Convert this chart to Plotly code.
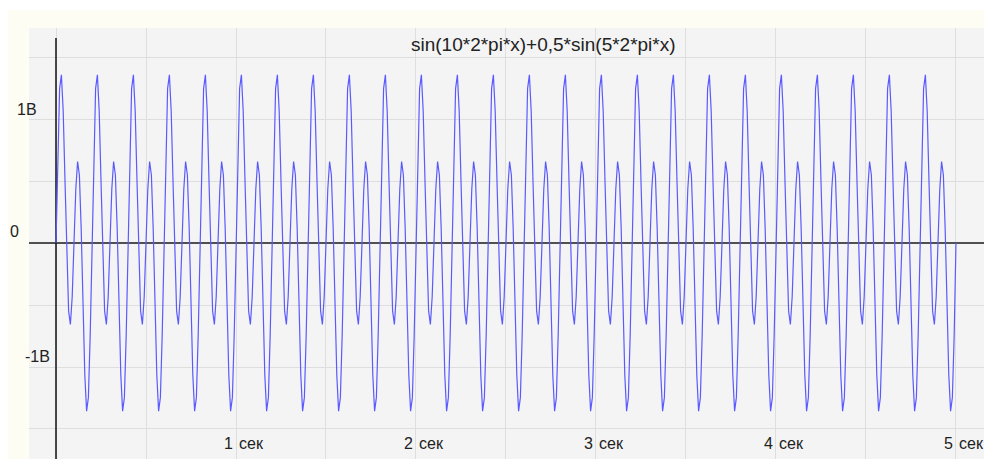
import plotly.graph_objects as go

period_values = [0.0, 0.742, 1.245, 1.356, 1.063, 0.5, -0.112, -0.547, -0.657, -0.433,
                 0.0, 0.433, 0.657, 0.547, 0.112, -0.5, -1.063, -1.356, -1.245, -0.742]
n_periods = 25
time_step = 0.01
signal = period_values * n_periods + [0.0]
times = [round(i * time_step, 4) for i in range(len(signal))]

title_text = "sin(10*2*pi*x)+0,5*sin(5*2*pi*x)"
x_tick_values = [1, 2, 3, 4, 5]
x_tick_unit = "сек"
y_labels = ["1В", "0", "-1В"]

# page has an 8 px body margin, so the figure is 8 px smaller than the window
W, H = 984, 451
ml, mr, mt, mb = 21, 2, 20, 0
pw, ph = W - ml - mr, H - mt - mb

x_range = [-0.15, 5.189]
y_range = [-1.742, 1.734]

fig = go.Figure()
fig.add_trace(go.Scatter(x=times, y=signal, mode="lines",
                         line=dict(color="rgb(90,90,255)", width=1.2),
                         hoverinfo="skip", showlegend=False))

grid = "#DEDEDE"
fig.update_layout(
    width=W, height=H,
    margin=dict(l=ml, r=mr, t=mt, b=mb, pad=0),
    paper_bgcolor="#FDFDF3",
    plot_bgcolor="#F4F4F4",
    showlegend=False,
    xaxis=dict(range=x_range, showticklabels=False, zeroline=False, showline=False,
               showgrid=True, gridcolor=grid, gridwidth=1, tick0=0, dtick=0.5, ticks=""),
    yaxis=dict(range=y_range, showticklabels=False, zeroline=False, showline=False,
               showgrid=True, gridcolor=grid, gridwidth=1, tick0=0, dtick=0.5, ticks=""),
)

shapes = [
    # thin white strip along the top of the page
    dict(type="rect", xref="paper", yref="paper", x0=-ml / pw - 0.01, x1=1 + mr / pw + 0.01,
         y0=1 + (mt - 2) / ph, y1=1 + mt / ph + 0.01, fillcolor="white", line_width=0, layer="above"),
    # zero line
    dict(type="line", xref="x", yref="y", x0=x_range[0], x1=5.161, y0=0, y1=0,
         line=dict(color="#505050", width=2), layer="between"),
    # vertical axis at t = 0
    dict(type="line", xref="x", yref="y", x0=0, x1=0, y0=y_range[0], y1=1.653,
         line=dict(color="#111111", width=1.5), layer="between"),
]
fig.update_layout(shapes=shapes)

font = dict(family="Liberation Sans, Arial, sans-serif", size=16, color="#222222")
ann = []
ann.append(dict(text=title_text, x=2.706, y=1.597, xref="x", yref="y",
                xanchor="center", yanchor="middle", showarrow=False,
                font=dict(family="Liberation Sans, Arial, sans-serif", size=19, color="#222222")))
for v in x_tick_values:
    ann.append(dict(text=str(v), x=v, y=-1.613, xref="x", yref="y", xanchor="right",
                    yanchor="middle", xshift=-1, showarrow=False, font=font))
    ann.append(dict(text=x_tick_unit, x=v, y=-1.613, xref="x", yref="y", xanchor="left",
                    yanchor="middle", xshift=1, showarrow=False, font=font))
y_label_pos = [(-0.01457, 1.08), (-0.02185, 0.089), (-0.00624, -0.919)]
for lab, (lx, ly) in zip(y_labels, y_label_pos):
    ann.append(dict(text=lab, x=lx, y=ly, xref="paper", yref="y", xanchor="left",
                    yanchor="middle", showarrow=False, font=font))
fig.update_layout(annotations=ann)

fig.write_html("out.html")
